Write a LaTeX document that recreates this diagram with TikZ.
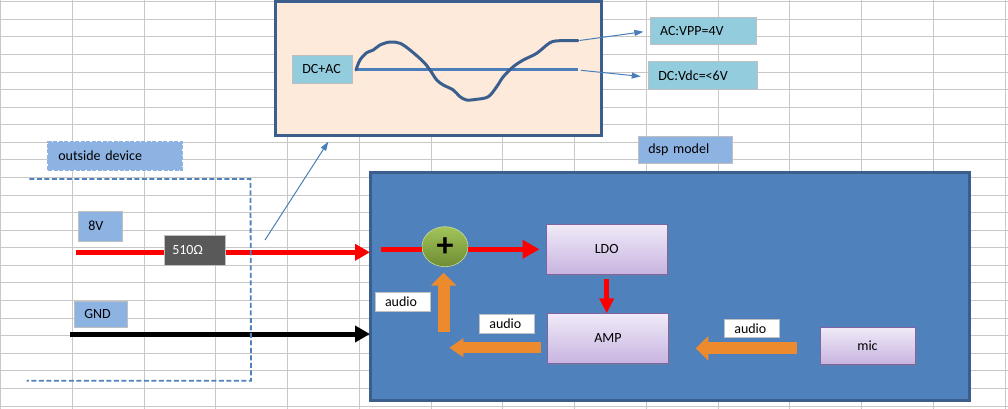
\documentclass[tikz,border=0pt]{standalone}
\usepackage{fontspec}
\setmainfont{Carlito}
\usepackage{tikz}
\usetikzlibrary{arrows.meta,positioning,shapes.geometric,shadows}
\definecolor{gridc}{RGB}{200,200,200}
\definecolor{peach}{HTML}{FDEADA}
\definecolor{frameblue}{HTML}{3B5E8C}
\definecolor{waveblue}{HTML}{3A5F8F}
\definecolor{lineblue}{HTML}{4A7EBB}
\definecolor{aqua}{HTML}{93CDDD}
\definecolor{lblue}{HTML}{8DB3E2}
\definecolor{dspblue}{HTML}{4F81BD}
\definecolor{edgegray}{HTML}{BFBFBF}
\definecolor{resgray}{HTML}{595959}
\definecolor{lavtop}{HTML}{F0EAF8}
\definecolor{lavbot}{HTML}{C8B4E0}
\definecolor{lavedge}{HTML}{8064A2}
\definecolor{greentop}{HTML}{A3C45A}
\definecolor{greenbot}{HTML}{6E8C32}
\definecolor{orangearr}{HTML}{EE8A2E}
\newcommand{\tagfont}{\fontsize{14}{16}\selectfont}
\tikzset{
  gridline/.style={gridc,line width=1pt},
  tag/.style={draw=edgegray,line width=0.8pt,anchor=west,align=left,inner xsep=10pt,inner ysep=0pt,outer sep=0pt,font=\tagfont},
  blockbox/.style={draw=lavedge,line width=0.8pt,top color=lavtop,bottom color=lavbot,minimum width=121pt,minimum height=50pt,outer sep=0pt,font=\tagfont,drop shadow={shadow xshift=1.5pt,shadow yshift=-1.5pt,opacity=0.35}},
  thinarr/.style={-{Triangle[length=9pt,width=6pt]},lineblue,line width=1pt},
  wirearr/.style={-{Triangle[length=15pt,width=16pt]},line width=5pt},
  fatarr/.style={orangearr},
}
\begin{document}
\begin{tikzpicture}[x=1pt,y=-1pt]
\useasboundingbox (0,0) rectangle (1008,409);
% sheet grid
\foreach \k in {0,...,14} {\draw[gridline] ({0.7+71.74*\k},0)--({0.7+71.74*\k},409);}
\foreach \k in {0,...,23} {\draw[gridline] (0,{1.7+17.58*\k})--(1008,{1.7+17.58*\k});}

% scope window with the signal
\node[draw=frameblue,line width=3pt,fill=peach,minimum width=326.7pt,minimum height=133pt,outer sep=0pt] (scopewin) at (438.35,68.5) {};
\node[tag,fill=aqua,minimum height=28.3pt,text width=40.4pt] (dcac) at (292.3,69.2) {DC+AC};
\coordinate (wl) at (356,70);
\coordinate (wr) at (578,70);
\coordinate (wt) at (578,40.7);
\draw[lineblue,line width=3pt] (wl)--(wr);
\draw[waveblue,line width=3pt,line join=round,line cap=round] plot[smooth,tension=0.55] coordinates {(356,70) (360,60) (366.7,52.7) (373.3,50) (380,45) (390,42) (400,43.3) (410,50) (423.3,61.7) (430,70) (436.7,80) (443.3,85) (453.3,90) (460,96.7) (466.7,100) (476.7,99.3) (488.3,96.7) (496.7,86.7) (503.3,76.7) (513.3,66.7) (523.3,60) (536.7,53.3) (550,42.7) (560,40.7) (578,40.7)};
\node[tag,fill=aqua,minimum height=27pt,text width=86pt] (vpp) at (650,30.8) {AC:VPP=4V};
\node[tag,fill=aqua,minimum height=28.3pt,text width=89.4pt] (vdc) at (648.3,75.2) {DC:Vdc=<6V};
\draw[thinarr,shorten <=2pt,shorten >=6.7pt] (wt)--(vpp.west);
\draw[thinarr,shorten <=3pt,shorten >=7.6pt] (wr)--([yshift=-2pt]vdc.west);
\node[tag,fill=lblue,minimum height=27.3pt,text width=74.4pt] (dspname) at (638.3,149.7) {dsp model};

% outside device
\node[tag,fill=lblue,draw=lblue,line width=2pt,dash pattern=on 4pt off 1.5pt,minimum height=28.3pt,text width=113.4pt] (outdev) at (48.3,155.9) {outside device};
\node[tag,fill=lblue,minimum height=30pt,text width=24.4pt] (v8) at (78.3,226) {8V};
\node[tag,fill=lblue,minimum height=26.7pt,text width=33.4pt] (gnd) at (74.3,314.4) {GND};

% dsp model box
\node[draw=frameblue,line width=3pt,fill=dspblue,minimum width=599.3pt,minimum height=227.7pt,outer sep=0pt] (dsp) at (669.65,286.15) {};

\coordinate (pin8) at (76.3,252.3);
\coordinate (pin0) at (70,334);
\draw[wirearr,red] (pin8)--(pin8 -| dsp.west);
\draw[wirearr,black] (pin0)--(pin0 -| dsp.west);
\node[tag,fill=resgray,text=white,inner xsep=8pt,minimum height=29.7pt,text width=45.4pt] (res) at (164.3,250.2) {510Ω};
\draw[dspblue,line width=1.8pt,dash pattern=on 5pt off 2.5pt] (29.3,179)--(250.5,179)--(251,380.7)--(26.7,380.7);
\coordinate (probe) at (265,240);
\coordinate (probetip) at (328.3,141.7);
\draw[thinarr] (probe)--(probetip);

% inside the dsp model
\node[ellipse,draw=greentop!60!white,line width=0.6pt,top color=greentop,bottom color=greenbot,minimum width=46pt,minimum height=40pt,inner sep=0pt,outer sep=0pt,font=\bfseries\fontsize{34}{34}\selectfont] (plus) at (445,246.7) {+};
\coordinate (sumin) at (380.7,249.5);
\draw[red,line width=5pt] (sumin)--(plus.west |- sumin);
\node[blockbox] (ldo) at (606.7,249.3) {LDO};
\node[blockbox] (amp) at (608,338.3) {AMP};
\node[blockbox,minimum width=95pt,minimum height=37pt] (mic) at (867.5,345.8) {mic};
\draw[red,line width=5pt,-{Triangle[length=17pt,width=18pt]},shorten >=6.7pt] (plus.east |- ldo.west)--(ldo.west);
\draw[red,line width=5pt,-{Triangle[length=15pt,width=14pt]},shorten <=4.7pt] (ldo.south)--(ldo.south |- amp.north);

\coordinate (ampout) at (541,347.7);
\coordinate (fbturn) at (449.3,347.7);
\coordinate (fbup) at (443.7,331.7);
\coordinate (micout) at (796.7,348.3);
\coordinate (micin) at (695.7,348.3);
\draw[fatarr,line width=10.7pt,-{Triangle[length=14pt,width=18pt]}] (ampout)--(fbturn);
\draw[fatarr,line width=11.7pt,-{Triangle[length=13pt,width=25pt]},shorten >=6pt] (fbup)--(fbup |- plus.south);
\draw[fatarr,line width=12pt,-{Triangle[length=12.7pt,width=24pt]}] (micout)--(micin);
\node[tag,fill=white,minimum height=19.4pt,text width=35.7pt] (aud1) at (375,302) {audio};
\node[tag,fill=white,minimum height=19pt,text width=35pt] (aud2) at (479.3,323.8) {audio};
\node[tag,fill=white,minimum height=18pt,text width=35pt] (aud3) at (724.3,328.3) {audio};
\end{tikzpicture}
\end{document}
